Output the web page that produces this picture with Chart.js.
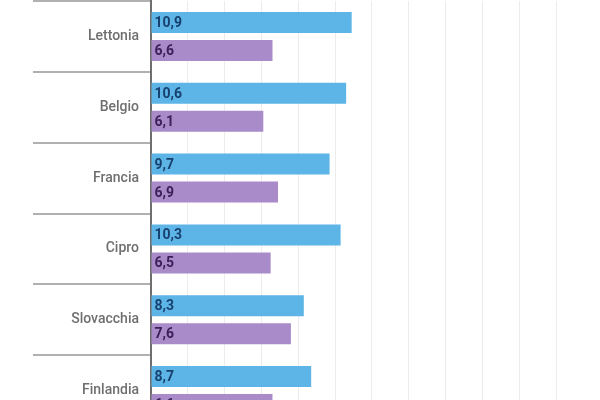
<!DOCTYPE html>
<html>
<head>
<meta charset="utf-8">
<script src="https://cdn.jsdelivr.net/npm/chart.js@4"></script>
<style>
  html, body { margin: 0; padding: 0; background: #fff; overflow: hidden; }
  #wrap { width: 600px; height: 428px; }
</style>
</head>
<body>
<div id="wrap"><canvas id="myChart"></canvas></div>
<script>
const paesi = ['Lettonia', 'Belgio', 'Francia', 'Cipro', 'Slovacchia', 'Finlandia'];
const serieBlu = [10.9, 10.6, 9.7, 10.3, 8.3, 8.7];
const serieViola = [6.6, 6.1, 6.9, 6.5, 7.6, 6.6];
const xMax = 22;

// etichette dentro le barre, all'inizio
const valueLabels = {
  id: 'valueLabels',
  afterDatasetsDraw(chart) {
    const ctx = chart.ctx;
    ctx.save();
    ctx.font = 'bold 14px Roboto';
    ctx.textAlign = 'left';
    ctx.textBaseline = 'middle';
    chart.data.datasets.forEach((ds, i) => {
      chart.getDatasetMeta(i).data.forEach((bar, j) => {
        ctx.fillStyle = ds.labelColor;
        ctx.fillText(String(ds.data[j]).replace('.', ','), bar.base + 3, bar.y + 1);
      });
    });
    ctx.restore();
  }
};

new Chart(document.getElementById('myChart'), {
  type: 'bar',
  data: {
    labels: paesi,
    datasets: [{
      label: 'A',
      data: serieBlu,
      backgroundColor: '#5cb5e6',
      labelColor: '#17406e',
      barPercentage: 0.75,
      categoryPercentage: 0.79
    }, {
      label: 'B',
      data: serieViola,
      backgroundColor: '#a98bca',
      labelColor: '#3b2158',
      barPercentage: 0.75,
      categoryPercentage: 0.79
    }]
  },
  options: {
    indexAxis: 'y',
    responsive: true,
    maintainAspectRatio: false,
    animation: false,
    layout: { padding: { top: 1, right: 44, bottom: 2, left: 0 } },
    plugins: {
      legend: { display: false },
      tooltip: { enabled: false }
    },
    scales: {
      x: {
        min: 0,
        max: xMax,
        ticks: { display: false, stepSize: 2 },
        grid: { color: '#ececec', lineWidth: 1, drawTicks: false },
        border: { display: false }
      },
      y: {
        afterFit: s => { s.width = 151; },
        grid: {
          drawOnChartArea: false,
          offset: true,
          tickLength: 118,
          color: '#b0b0b0',
          lineWidth: 2
        },
        border: { display: true, color: '#6e6e6e', width: 2 },
        ticks: {
          padding: -106,
          color: '#6f6f6f',
          font: { family: 'Roboto', size: 14, weight: '500' }
        }
      }
    }
  },
  plugins: [valueLabels]
});
</script>
</body>
</html>
